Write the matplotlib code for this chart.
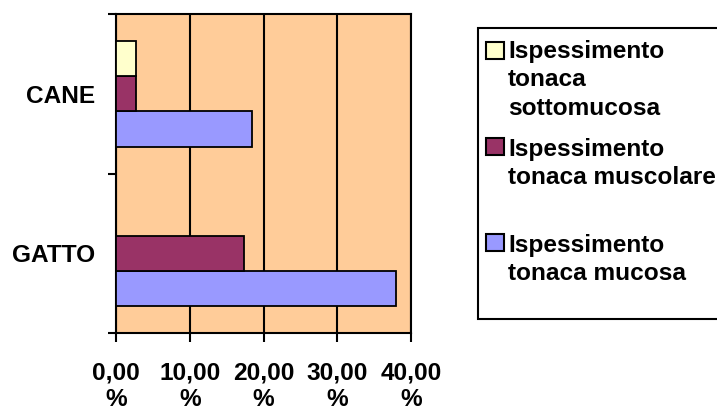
import matplotlib
matplotlib.use("Agg")
import matplotlib.pyplot as plt
from matplotlib.patches import Rectangle

# Data (percent of cases per species)
categories = ["GATTO", "CANE"]
mucosa = [37.9, 18.4]
muscolare = [17.3, 2.7]
sottomucosa = [0.0, 2.7]

series_labels = [
    ["Ispessimento", "tonaca", "sottomucosa"],
    ["Ispessimento", "tonaca muscolare"],
    ["Ispessimento", "tonaca mucosa"],
]
x_ticks = [0, 10, 20, 30, 40]
x_tick_labels = ["0,00\n%", "10,00\n%", "20,00\n%", "30,00\n%", "40,00\n%"]

W, H = 717, 412
DPI = 100
plt.rcParams["font.family"] = ["Liberation Sans", "DejaVu Sans"]
plt.rcParams["font.weight"] = "bold"
FS = 17.6
LW = 1.5

col_sotto = "#FFFFCC"
col_musc = "#993366"
col_muc = "#9999FF"

fig = plt.figure(figsize=(W / DPI, H / DPI), dpi=DPI)
fig.patch.set_facecolor("white")

left, right, top, bottom = 116, 411, 14, 333
ax = fig.add_axes([left / W, 1 - bottom / H, (right - left) / W, (bottom - top) / H])
ax.set_facecolor("#FFCC99")

ypos = list(range(len(categories)))
h = 0.222
ax.barh([y - h for y in ypos], mucosa, height=h, color=col_muc,
        edgecolor="black", linewidth=1.3, zorder=3)
ax.barh(ypos, muscolare, height=h, color=col_musc,
        edgecolor="black", linewidth=1.3, zorder=3)
ax.barh([y + h for y in ypos if sottomucosa[y] > 0],
        [v for v in sottomucosa if v > 0], height=h, color=col_sotto,
        edgecolor="black", linewidth=1.3, zorder=3)

ax.set_xlim(0, 40)
ax.set_ylim(-0.5, 1.5)

ax.set_xticks(x_ticks)
ax.set_xticklabels(x_tick_labels, fontsize=FS, fontweight="bold", linespacing=1.22)
ax.tick_params(axis="x", direction="out", length=6.5, width=LW, pad=14, colors="black")

ax.set_yticks([-0.5, 0.5, 1.5])
ax.set_yticklabels(["", "", ""])
ax.set_yticks(ypos, minor=True)
ax.set_yticklabels(categories, minor=True, fontsize=FS, fontweight="bold")
ax.tick_params(axis="y", which="major", direction="out", length=6, width=LW)
ax.tick_params(axis="y", which="minor", length=0, pad=15)

ax.xaxis.grid(True, color="black", linewidth=LW, zorder=1)
ax.set_axisbelow(True)
for s in ax.spines.values():
    s.set_color("black")
    s.set_linewidth(LW)

# Legend box, markers and labels
def fx(px):
    return px / W

def fy(py):
    return 1 - py / H

fig.add_artist(Rectangle((fx(478), fy(319)), fx(740) - fx(478), fy(28) - fy(319),
                         transform=fig.transFigure, facecolor="white",
                         edgecolor="black", linewidth=LW))

marker_tops = [41.5, 138, 234]
baselines = [[58, 86.5, 115], [156, 184], [252, 280]]
colors = [col_sotto, col_musc, col_muc]
for top_px, lines, c, bl in zip(marker_tops, series_labels, colors, baselines):
    fig.add_artist(Rectangle((fx(486), fy(top_px + 17)), 18 / W, 17 / H,
                             transform=fig.transFigure, facecolor=c,
                             edgecolor="black", linewidth=LW))
    for text, b in zip(lines, bl):
        fig.text(fx(508), fy(b), text, fontsize=FS, fontweight="bold",
                 ha="left", va="baseline")

fig.savefig("out.png", dpi=DPI)
